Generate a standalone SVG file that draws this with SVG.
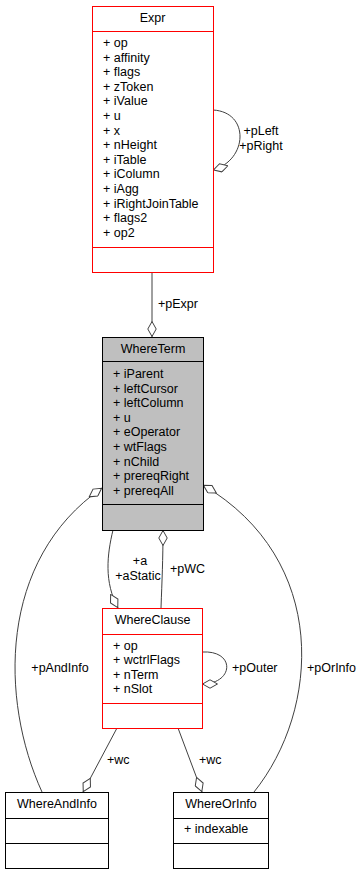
<svg xmlns="http://www.w3.org/2000/svg" width="362" height="875" viewBox="0 0 362 875">
<style>
text{font-family:"Liberation Sans",Arial,sans-serif;font-size:12.5px;fill:#000}
.t{text-anchor:middle}
.box{fill:#fff;stroke:#000;stroke-width:1}
.red{fill:#fff;stroke:#ff0000;stroke-width:1}
.gray{fill:#bfbfbf;stroke:#000;stroke-width:1}
.sep{stroke:#000;stroke-width:1}
.sepr{stroke:#ff0000;stroke-width:1}
.c{fill:none;stroke:#404040;stroke-width:1;marker-end:url(#d)}
</style>
<defs>
<marker id="d" viewBox="0 0 16 10" refX="16" refY="5" markerWidth="16" markerHeight="10" markerUnits="userSpaceOnUse" orient="auto">
<path d="M0.5,5 L8,0.8 L15.5,5 L8,9.2 Z" fill="#fff" stroke="#404040" stroke-width="1"/>
</marker>
</defs>
<g id="connectors">
<path class="c" d="M152,272 L152,337"/>
<path class="c" d="M213,110 C250,112 248,160 213,170"/>
<path class="c" d="M202,652 C236,650 234,684 202,684"/>
<path class="c" d="M113,530 C107,555 104,582 118,608"/>
<path class="c" d="M161,608 C162,580 163,560 163,530"/>
<path class="c" d="M42,792 C0,700 -2,560 102,488"/>
<path class="c" d="M254,792 C320,710 330,560 203,485"/>
<path class="c" d="M117,728 L83,792"/>
<path class="c" d="M178,728 L202,792"/>
<text x="158" y="308">+pExpr</text>
<text class="t" x="261" y="135">+pLeft</text>
<text class="t" x="261" y="150">+pRight</text>
<text class="t" x="140" y="565">+a</text>
<text class="t" x="138" y="580">+aStatic</text>
<text x="170" y="573">+pWC</text>
<text class="t" x="60" y="672">+pAndInfo</text>
<text x="232" y="672">+pOuter</text>
<text x="307" y="672">+pOrInfo</text>
<text x="107" y="764">+wc</text>
<text x="199" y="764">+wc</text>
</g>
<g id="Expr">
<rect class="red" x="92.5" y="6.5" width="121" height="266"/>
<line class="sepr" x1="92.5" y1="31.5" x2="213.5" y2="31.5"/>
<line class="sepr" x1="92.5" y1="247.5" x2="213.5" y2="247.5"/>
<text class="t" x="152.5" y="22">Expr</text>
<text x="103" y="47">+ op</text>
<text x="103" y="61.6">+ affinity</text>
<text x="103" y="76.2">+ flags</text>
<text x="103" y="90.8">+ zToken</text>
<text x="103" y="105.4">+ iValue</text>
<text x="103" y="120">+ u</text>
<text x="103" y="134.6">+ x</text>
<text x="103" y="149.2">+ nHeight</text>
<text x="103" y="163.8">+ iTable</text>
<text x="103" y="178.4">+ iColumn</text>
<text x="103" y="193">+ iAgg</text>
<text x="103" y="207.6">+ iRightJoinTable</text>
<text x="103" y="222.2">+ flags2</text>
<text x="103" y="236.8">+ op2</text>
</g>
<g id="WhereTerm">
<rect class="gray" x="102.5" y="337.5" width="101" height="193"/>
<line class="sep" x1="102.5" y1="361.5" x2="203.5" y2="361.5"/>
<line class="sep" x1="102.5" y1="504.5" x2="203.5" y2="504.5"/>
<text class="t" x="153" y="353">WhereTerm</text>
<text x="113" y="378">+ iParent</text>
<text x="113" y="392.6">+ leftCursor</text>
<text x="113" y="407.2">+ leftColumn</text>
<text x="113" y="421.8">+ u</text>
<text x="113" y="436.4">+ eOperator</text>
<text x="113" y="451">+ wtFlags</text>
<text x="113" y="465.6">+ nChild</text>
<text x="113" y="480.2">+ prereqRight</text>
<text x="113" y="494.8">+ prereqAll</text>
</g>
<g id="WhereClause">
<rect class="red" x="102.5" y="608.5" width="100" height="120"/>
<line class="sepr" x1="102.5" y1="634.5" x2="202.5" y2="634.5"/>
<line class="sepr" x1="102.5" y1="703.5" x2="202.5" y2="703.5"/>
<text class="t" x="152.5" y="624">WhereClause</text>
<text x="113" y="650">+ op</text>
<text x="113" y="664.4">+ wctrlFlags</text>
<text x="113" y="678.8">+ nTerm</text>
<text x="113" y="693.2">+ nSlot</text>
</g>
<g id="WhereAndInfo">
<rect class="box" x="5.5" y="792.5" width="103" height="76"/>
<line class="sep" x1="5.5" y1="818.5" x2="108.5" y2="818.5"/>
<line class="sep" x1="5.5" y1="843.5" x2="108.5" y2="843.5"/>
<text class="t" x="57" y="808">WhereAndInfo</text>
</g>
<g id="WhereOrInfo">
<rect class="box" x="173.5" y="792.5" width="95" height="76"/>
<line class="sep" x1="173.5" y1="818.5" x2="268.5" y2="818.5"/>
<line class="sep" x1="173.5" y1="843.5" x2="268.5" y2="843.5"/>
<text class="t" x="221" y="808">WhereOrInfo</text>
<text x="184" y="833">+ indexable</text>
</g>
</svg>
